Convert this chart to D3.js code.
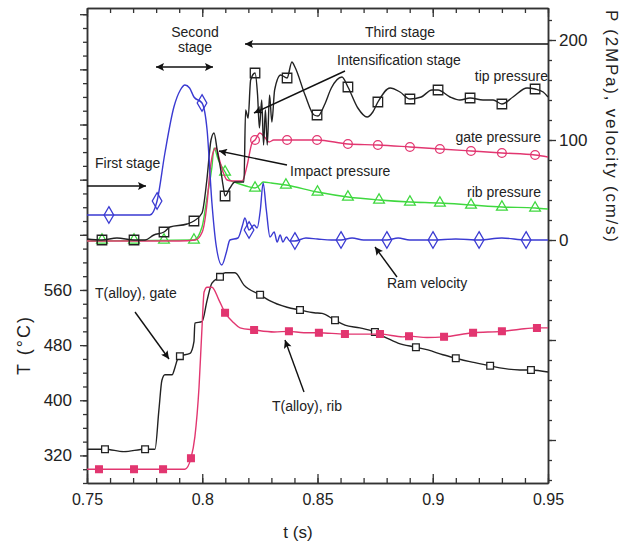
<!DOCTYPE html>
<html>
<head>
<meta charset="utf-8">
<script src="https://cdn.jsdelivr.net/npm/d3@7"></script>
<style>
  body { margin: 0; background: #fff; }
  svg text { font-family: "Liberation Sans", Arial, sans-serif; fill: #222; }
  .domain { stroke: #333; stroke-width: 1.5px; }
  .tick line { stroke: #333; stroke-width: 1.3px; }
  .note { font-size: 14px; }
</style>
</head>
<body>
<svg></svg>
<script>

// tick labels
var tTicks = [0.75, 0.8, 0.85, 0.9, 0.95];
var tempTicks = [320, 400, 480, 560];
var pTicks = [0, 100, 200];

// ram velocity (cm/s), right axis
var ramVelocity = [[0.75,25],[0.7595,25],[0.7773,25],[0.7804,39],[0.7838,87],[0.7877,133],[0.7905,150],[0.7925,155],
  [0.7945,152],[0.7964,143],[0.7999,137],[0.8021,110],[0.8042,37],[0.806,-5],[0.8085,-25],[0.8105,-12],[0.812,0],
  [0.8155,2],[0.8175,15],[0.8185,22],[0.8203,10],[0.8225,15],[0.8238,12],[0.8252,30],[0.8264,57],[0.8278,30],
  [0.8294,3],[0.8312,8],[0.8325,-2],[0.8338,5],[0.835,-2],[0.8365,3],[0.838,-1],[0.8402,-1],[0.845,2],[0.85,1],
  [0.856,0],[0.8602,0],[0.865,2],[0.87,0],[0.8801,0],[0.885,2],[0.89,0],[0.9001,0],[0.91,1],[0.9201,0],[0.93,2],
  [0.9405,0],[0.95,0]];
var ramMarkers = [[0.7595,25],[0.7804,39],[0.7999,137],[0.8203,10],[0.8402,-1],[0.8602,0],[0.8801,0],[0.9001,0],[0.9201,0],[0.9405,0]];

// tip pressure (2MPa)
var tipPressure = [[0.75,1],[0.7565,0],[0.763,2],[0.7704,0],[0.7752,0],[0.779,5],[0.7834,8],[0.786,13],[0.7934,16],
  [0.7964,19],[0.7999,27],[0.802,60],[0.8038,100],[0.8051,107],[0.8066,88],[0.8079,72],[0.809,55],[0.8099,44],
  [0.812,52],[0.8142,58],[0.8181,58],[0.8188,130],[0.8199,122],[0.821,160],[0.8229,167],[0.824,145],[0.8248,112],
  [0.8258,140],[0.8266,95],[0.8274,130],[0.8282,95],[0.8292,145],[0.8302,118],[0.8314,150],[0.834,165],[0.8368,162],
  [0.8389,178],[0.8402,173],[0.8446,145],[0.8485,125],[0.8502,124],[0.853,135],[0.856,152],[0.8606,163],[0.8632,153],
  [0.8675,132],[0.8715,123],[0.874,128],[0.8762,138],[0.8815,152],[0.8858,148],[0.8901,141],[0.895,143],[0.8996,150],
  [0.9023,150],[0.9075,143],[0.9118,140],[0.9162,142],[0.9218,140],[0.9262,140],[0.93,136],[0.9348,143],[0.9409,152],
  [0.9444,151],[0.9479,148],[0.95,143]];
var tipMarkers = [[0.7565,0],[0.7704,0],[0.7834,8],[0.7964,19],[0.8099,44],[0.8229,167],[0.8368,162],[0.8498,125],
  [0.8632,153],[0.8762,138],[0.8901,141],[0.9023,150],[0.9162,142],[0.93,136],[0.9444,151]];

// gate pressure
var gatePressure = [[0.75,-1],[0.79,-1],[0.797,0],[0.8,8],[0.8021,37],[0.8034,70],[0.8051,90],[0.806,92],[0.8075,80],
  [0.809,68],[0.8108,60],[0.813,59],[0.8173,59],[0.8195,75],[0.8216,97],[0.8229,100],[0.825,107],[0.827,103],
  [0.829,98],[0.831,100],[0.8368,100],[0.8498,100],[0.8632,96],[0.8762,95],[0.8901,93],[0.9031,91],[0.9166,89],
  [0.93,87],[0.9444,85],[0.95,83]];
var gateMarkers = [[0.8229,100],[0.8368,100],[0.8498,100],[0.8632,96],[0.8762,95],[0.8901,93],[0.9031,91],[0.9166,89],[0.93,87],[0.9444,85]];

// rib pressure
var ribPressure = [[0.75,-1],[0.7964,0],[0.7999,13],[0.8021,43],[0.8042,73],[0.8051,92],[0.807,80],[0.8099,68],
  [0.812,60],[0.815,57],[0.819,54],[0.8229,52],[0.825,55],[0.8264,58],[0.83,57],[0.8363,55],[0.85,48],[0.8632,43],
  [0.8767,40],[0.8901,38],[0.9031,37],[0.9166,35],[0.93,33],[0.9444,32],[0.95,31]];
var ribMarkers = [[0.7565,0],[0.7704,0],[0.7834,0],[0.7964,0],[0.8099,68],[0.8229,52],[0.8363,55],[0.85,48],[0.8632,43],
  [0.8767,40],[0.8901,38],[0.9031,37],[0.9166,35],[0.93,33],[0.9444,32]];

// alloy temperature at gate (°C), left axis
var tempGate = [[0.75,329],[0.7578,329],[0.766,325.5],[0.7752,329],[0.7795,329],[0.7812,386],[0.7825,429],[0.7838,437],
  [0.7869,437],[0.7882,448],[0.7891,458],[0.7903,464],[0.7947,468],[0.7964,485],[0.7968,512],[0.7999,514],[0.8021,545],
  [0.8042,570],[0.8077,579],[0.8099,585],[0.8142,585],[0.8181,567],[0.8251,553],[0.829,545],[0.8368,535],[0.8424,531],
  [0.8485,527],[0.852,526],[0.8576,516],[0.8619,509],[0.8684,505],[0.8749,499],[0.8801,490],[0.8849,483],[0.8927,477],
  [0.8979,473],[0.9044,466],[0.91,461],[0.9161,456],[0.9249,450],[0.9291,447],[0.9378,444],[0.9426,444],[0.95,441]];
var tempGateMarkers = [[0.7578,329],[0.7752,329],[0.7903,464],[0.8077,579],[0.8251,553],[0.8424,531],[0.8576,516],
  [0.8749,499],[0.8927,477],[0.91,461],[0.9249,450],[0.9426,444]];

// alloy temperature at rib
var tempRib = [[0.75,300],[0.7925,300],[0.7951,316],[0.7968,347],[0.7986,419],[0.7999,506],[0.8008,557],[0.8021,564],
  [0.8042,564],[0.8073,545],[0.8099,527],[0.8138,512],[0.8164,505],[0.8225,502],[0.8312,499],[0.8376,500],[0.8441,498],
  [0.8506,498],[0.8619,496],[0.8771,496],[0.8871,492],[0.8897,493],[0.8975,491],[0.9049,492],[0.9175,498],[0.93,500],
  [0.9378,503],[0.9452,505],[0.95,505]];
var tempRibMarkers = [[0.7552,300],[0.7704,300],[0.783,300],[0.7951,316],[0.8099,527],[0.8225,502],[0.8376,500],
  [0.8506,498],[0.8619,496],[0.8771,496],[0.8897,493],[0.9049,492],[0.9175,498],[0.93,500],[0.9452,505]];

var width = 628;
var height = 546;
var padLeft = 87, padRight = 548, padTop = 8, padBottom = 483;

var svg = d3.select("svg")
            .attr("width", width)
            .attr("height", height);

var xScale = d3.scaleLinear().domain([0.75, 0.95]).range([padLeft, padRight]);
var pScale = d3.scaleLinear().domain([-243, 232]).range([padBottom, padTop]);
var tScale = d3.scaleLinear().domain([280, 969]).range([padBottom, padTop]);

// arrow head
svg.append("defs").append("marker")
   .attr("id", "head")
   .attr("viewBox", "0 0 10 10")
   .attr("refX", 10).attr("refY", 5)
   .attr("markerWidth", 11).attr("markerHeight", 8)
   .attr("markerUnits", "userSpaceOnUse")
   .attr("orient", "auto-start-reverse")
   .append("path")
   .attr("d", "M0,0 L10,5 L0,10 L2,5 Z")
   .attr("fill", "#111");

// minor + major ticks helper
function ticks(axis, values, size) {
    return axis.tickValues(values).tickSizeInner(size).tickSizeOuter(0).tickFormat("");
}

// bottom axis, ticks inward
svg.append("g").attr("transform", "translate(0," + padBottom + ")")
   .call(ticks(d3.axisBottom(xScale), d3.range(75, 96).map(d => d / 100), -5));
svg.append("g").attr("transform", "translate(0," + padBottom + ")")
   .call(d3.axisBottom(xScale).tickValues(tTicks).tickSizeInner(-9).tickSizeOuter(0)
      .tickPadding(11).tickFormat(d => d3.format("")(d)))
   .selectAll("text").style("font-size", "16px").attr("fill", "#222");

// top axis
svg.append("g").attr("transform", "translate(0," + padTop + ")")
   .call(ticks(d3.axisTop(xScale), d3.range(75, 96).map(d => d / 100), -5));
svg.append("g").attr("transform", "translate(0," + padTop + ")")
   .call(ticks(d3.axisTop(xScale), tTicks, -9));

// left axis (temperature)
svg.append("g").attr("transform", "translate(" + padLeft + ",0)")
   .call(ticks(d3.axisLeft(tScale), d3.range(280, 961, 20), 4));
svg.append("g").attr("transform", "translate(" + padLeft + ",0)")
   .call(d3.axisLeft(tScale).tickValues(d3.range(320, 961, 80)).tickSizeInner(7).tickSizeOuter(0)
      .tickPadding(8).tickFormat(d => tempTicks.indexOf(d) >= 0 ? d : ""))
   .selectAll("text").style("font-size", "17px").attr("fill", "#222");

// right axis (pressure / velocity)
svg.append("g").attr("transform", "translate(" + padRight + ",0)")
   .call(ticks(d3.axisRight(pScale), d3.range(-240, 221, 20), 4));
svg.append("g").attr("transform", "translate(" + padRight + ",0)")
   .call(d3.axisRight(pScale).tickValues([-200, -100, 0, 100, 200]).tickSizeInner(8).tickSizeOuter(0)
      .tickPadding(3).tickFormat(d => pTicks.indexOf(d) >= 0 ? d : ""))
   .selectAll("text").style("font-size", "17px").attr("fill", "#222");

// axis titles
svg.append("text")
   .attr("transform", "translate(30,345) rotate(-90)")
   .style("text-anchor", "middle")
   .style("font-size", "18px")
   .style("letter-spacing", "2px")
   .text("T (°C)");

svg.append("text")
   .attr("x", 298).attr("y", 538)
   .style("text-anchor", "middle")
   .style("font-size", "17px")
   .text("t (s)");

svg.append("text")
   .attr("transform", "translate(606,126) rotate(90)")
   .style("text-anchor", "middle")
   .style("font-size", "17px")
   .attr("textLength", 232)
   .attr("lengthAdjust", "spacing")
   .text("P (2MPa),  velocity (cm/s)");

// series
function line(scale) {
    return d3.line()
             .x(d => xScale(d[0]))
             .y(d => scale(d[1]))
             .curve(d3.curveMonotoneX);
}

function drawSeries(data, marks, scale, color, shape, size, fill) {
    svg.append("path")
       .datum(data)
       .attr("d", line(scale))
       .attr("fill", "none")
       .attr("stroke", color)
       .attr("stroke-width", 1.4);

    svg.append("g").selectAll("path")
       .data(marks)
       .enter().append("path")
       .attr("transform", d => "translate(" + xScale(d[0]) + "," + scale(d[1]) + ")")
       .attr("d", d3.symbol().type(shape).size(size))
       .attr("fill", fill)
       .attr("stroke", color)
       .attr("stroke-width", 1.3);
}

var green = "#3fd83f", pink = "#e23670", black = "#222", blue = "#3a3ad2";

drawSeries(tempGate, tempGateMarkers, tScale, black, d3.symbolSquare, 45, "#fff");
drawSeries(tempRib, tempRibMarkers, tScale, pink, d3.symbolSquare, 45, pink);
drawSeries(ribPressure, ribMarkers, pScale, green, d3.symbolTriangle, 50, "none");
drawSeries(gatePressure, gateMarkers, pScale, pink, d3.symbolCircle, 60, "none");
drawSeries(tipPressure, tipMarkers, pScale, black, d3.symbolSquare, 90, "none");
drawSeries(ramVelocity, ramMarkers, pScale, blue, d3.symbolDiamond, 80, "none");

// stage annotations
function arrow(x1, y1, x2, y2, both) {
    var l = svg.append("line")
       .attr("x1", x1).attr("y1", y1)
       .attr("x2", x2).attr("y2", y2)
       .attr("stroke", "#111")
       .attr("stroke-width", 1.4)
       .attr("marker-end", "url(#head)");
    if (both) l.attr("marker-start", "url(#head)");
}

function note(x, y, s, anchor) {
    svg.append("text")
       .attr("class", "note")
       .attr("x", x).attr("y", y)
       .style("text-anchor", anchor || "start")
       .text(s);
}

note(195, 37, "Second", "middle");
note(195, 52, "stage", "middle");
arrow(156, 67, 213, 67, true);

note(400, 37, "Third stage", "middle");
arrow(548, 44, 245, 44);

note(95, 168, "First stage");
arrow(87, 186, 146, 186);

note(337, 65, "Intensification stage");
arrow(345, 71, 254, 113);

note(548, 81, "tip pressure", "end");
note(541, 142, "gate pressure", "end");
note(290, 176, "Impact pressure");
arrow(287, 165, 219, 151);
note(541, 197, "rib pressure", "end");

note(387, 288, "Ram velocity");
arrow(397, 277, 375, 247);

note(95, 298, "T(alloy), gate");
arrow(135, 312, 169, 359);

note(272, 411, "T(alloy), rib");
arrow(304, 392, 285, 340);

</script>
</body>
</html>
